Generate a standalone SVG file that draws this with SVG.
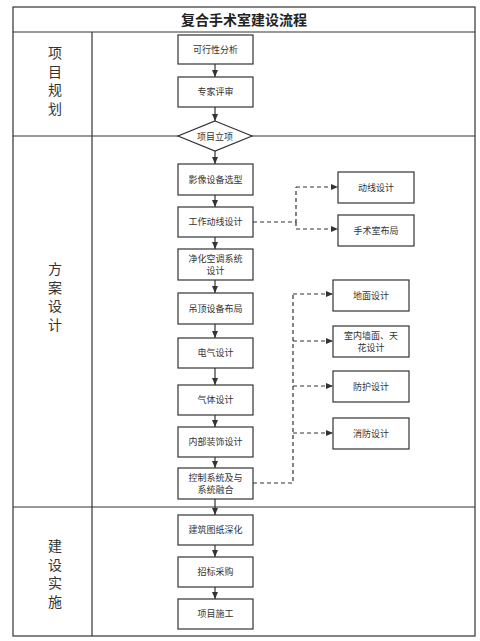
<svg xmlns="http://www.w3.org/2000/svg" width="480" height="641" viewBox="0 0 480 641">
<style>
.frame{fill:none;stroke:#333;stroke-width:1.2}
.box{fill:#fff;stroke:#333;stroke-width:1.2}
.t{font-family:"Noto Sans CJK SC","Noto Sans",sans-serif;font-size:9px;fill:#333;text-anchor:middle}
.lane{font-family:"Noto Sans CJK SC","Noto Sans",sans-serif;font-size:14px;fill:#333;text-anchor:middle;writing-mode:vertical-rl;letter-spacing:4.5px}
.title{font-family:"Noto Sans CJK SC","Noto Sans",sans-serif;font-size:14px;font-weight:bold;fill:#222;text-anchor:middle}
.solid{fill:none;stroke:#333;stroke-width:1.2;marker-end:url(#ah)}
.dash{fill:none;stroke:#333;stroke-width:1.2;stroke-dasharray:4 3}
.dashA{fill:none;stroke:#333;stroke-width:1.2;stroke-dasharray:4 3;marker-end:url(#ah)}
</style>
<defs>
<marker id="ah" markerWidth="8" markerHeight="8" refX="7" refY="4" orient="auto" markerUnits="userSpaceOnUse">
<path d="M0,1 L7,4 L0,7 Z" fill="#333"/>
</marker>
</defs>
<rect width="480" height="641" fill="#fff"/>
<g id="frame">
<rect class="frame" x="13" y="7" width="462" height="629"/>
<line class="frame" x1="13" y1="32" x2="475" y2="32"/>
<line class="frame" x1="92" y1="32" x2="92" y2="636"/>
<line class="frame" x1="13" y1="136" x2="475" y2="136"/>
<line class="frame" x1="13" y1="507" x2="475" y2="507"/>
<text class="title" x="244" y="25">复合手术室建设流程</text>
</g>
<g id="lane1"><text class="lane" x="55" y="83">项目规划</text></g>
<g id="lane2"><text class="lane" x="55" y="299">方案设计</text></g>
<g id="lane3"><text class="lane" x="55" y="576">建设实施</text></g>
<g id="connectors">
<line class="solid" x1="215" y1="64" x2="215" y2="77"/>
<line class="solid" x1="215" y1="107" x2="215" y2="121"/>
<line class="solid" x1="215" y1="151" x2="215" y2="164"/>
<line class="solid" x1="215" y1="195" x2="215" y2="207"/>
<line class="solid" x1="215" y1="237" x2="215" y2="249"/>
<line class="solid" x1="215" y1="280" x2="215" y2="293"/>
<line class="solid" x1="215" y1="324" x2="215" y2="338"/>
<line class="solid" x1="215" y1="368" x2="215" y2="385"/>
<line class="solid" x1="215" y1="415" x2="215" y2="427"/>
<line class="solid" x1="215" y1="457" x2="215" y2="468"/>
<line class="solid" x1="215" y1="499" x2="215" y2="515"/>
<line class="solid" x1="215" y1="545" x2="215" y2="557"/>
<line class="solid" x1="215" y1="587" x2="215" y2="599"/>
<polyline class="dash" points="253,222 296,222 296,187"/>
<line class="dashA" x1="296" y1="187" x2="338" y2="187"/>
<polyline class="dashA" points="296,222 296,229 338,229"/>
<polyline class="dash" points="253,483 293,483 293,294"/>
<line class="dashA" x1="293" y1="294" x2="333" y2="294"/>
<line class="dashA" x1="293" y1="341" x2="333" y2="341"/>
<line class="dashA" x1="293" y1="386" x2="333" y2="386"/>
<line class="dashA" x1="293" y1="433" x2="333" y2="433"/>
</g>
<g id="n1"><rect class="box" x="178" y="35" width="75" height="29"/><text class="t" x="215.5" y="52.5">可行性分析</text></g>
<g id="n2"><rect class="box" x="178" y="77" width="75" height="30"/><text class="t" x="215.5" y="95">专家评审</text></g>
<g id="n3"><polygon class="box" points="215,121 252,136 215,151 178,136"/><text class="t" x="215" y="139.5">项目立项</text></g>
<g id="n4"><rect class="box" x="178" y="164" width="75" height="31"/><text class="t" x="215.5" y="182.5">影像设备选型</text></g>
<g id="n5"><rect class="box" x="178" y="207" width="75" height="30"/><text class="t" x="215.5" y="225">工作动线设计</text></g>
<g id="n6"><rect class="box" x="178" y="249" width="75" height="31"/><text class="t" x="215.5" y="262">净化空调系统</text><text class="t" x="215.5" y="274">设计</text></g>
<g id="n7"><rect class="box" x="178" y="293" width="75" height="31"/><text class="t" x="215.5" y="311.5">吊顶设备布局</text></g>
<g id="n8"><rect class="box" x="178" y="338" width="75" height="30"/><text class="t" x="215.5" y="356">电气设计</text></g>
<g id="n9"><rect class="box" x="178" y="385" width="75" height="30"/><text class="t" x="215.5" y="403">气体设计</text></g>
<g id="n10"><rect class="box" x="178" y="427" width="75" height="30"/><text class="t" x="215.5" y="445">内部装饰设计</text></g>
<g id="n11"><rect class="box" x="178" y="468" width="75" height="31"/><text class="t" x="215.5" y="481">控制系统及与</text><text class="t" x="215.5" y="493">系统融合</text></g>
<g id="n12"><rect class="box" x="178" y="515" width="75" height="30"/><text class="t" x="215.5" y="533">建筑图纸深化</text></g>
<g id="n13"><rect class="box" x="178" y="557" width="75" height="30"/><text class="t" x="215.5" y="575">招标采购</text></g>
<g id="n14"><rect class="box" x="178" y="599" width="75" height="30"/><text class="t" x="215.5" y="617">项目施工</text></g>
<g id="r1"><rect class="box" x="338" y="172" width="76" height="31"/><text class="t" x="376" y="190.5">动线设计</text></g>
<g id="r2"><rect class="box" x="338" y="215" width="76" height="31"/><text class="t" x="376" y="233.5">手术室布局</text></g>
<g id="r3"><rect class="box" x="333" y="280" width="76" height="31"/><text class="t" x="371" y="298.5">地面设计</text></g>
<g id="r4"><rect class="box" x="333" y="326" width="76" height="31"/><text class="t" x="371" y="339">室内墙面、天</text><text class="t" x="371" y="351">花设计</text></g>
<g id="r5"><rect class="box" x="333" y="371" width="76" height="31"/><text class="t" x="371" y="389.5">防护设计</text></g>
<g id="r6"><rect class="box" x="333" y="418" width="76" height="31"/><text class="t" x="371" y="436.5">消防设计</text></g>
</svg>
